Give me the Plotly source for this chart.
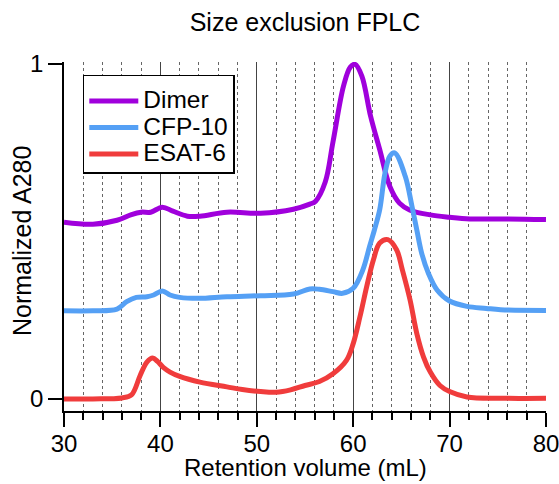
import plotly.graph_objects as go

# Retention volume (mL) and normalized A280 per trace
dimer_x = [30, 33, 35.5, 37, 38, 39, 40.2, 41.3, 42.8, 44.1, 46.9, 50.4, 53.8, 55.5,
           56.1, 57.1, 57.9, 59.0, 59.7, 60.2, 60.9, 61.8, 62.75, 63.8, 64.8, 65.9,
           68, 70, 72.1, 75.3, 80]
dimer_y = [0.527, 0.521, 0.533, 0.55, 0.557, 0.557, 0.572, 0.56, 0.545, 0.545, 0.557,
           0.554, 0.566, 0.581, 0.59, 0.647, 0.766, 0.934, 0.99, 0.998, 0.963, 0.844,
           0.744, 0.634, 0.584, 0.563, 0.549, 0.542, 0.537, 0.537, 0.535]

cfp_x = [30, 33, 35.5, 36.5, 37.5, 38.6, 39.3, 40.2, 41, 42, 44, 46.9, 50.4, 53.8,
         55.5, 56.5, 57.9, 58.9, 60, 61, 61.7, 62.2, 62.75, 63.3, 63.8, 64.3, 65.4,
         66.1, 66.6, 67.1, 67.8, 68.7, 70, 71.8, 73.8, 75.3, 80]
cfp_y = [0.263, 0.263, 0.268, 0.29, 0.303, 0.305, 0.31, 0.322, 0.31, 0.303, 0.3,
         0.305, 0.308, 0.313, 0.328, 0.327, 0.32, 0.315, 0.33, 0.385, 0.455, 0.504,
         0.564, 0.674, 0.724, 0.734, 0.664, 0.574, 0.504, 0.435, 0.375, 0.325, 0.292,
         0.276, 0.27, 0.266, 0.264]

esat_x = [30, 33, 36, 37.0, 37.9, 38.6, 39.2, 39.7, 40.3, 41, 42, 44.1, 46.9, 48.5,
          50.4, 52, 53.5, 55, 56.5, 57.9, 59.3, 60, 60.7, 61.4, 62.1, 62.75, 63.6,
          64.5, 65.1, 65.9, 66.6, 67.3, 68, 69, 70, 71.8, 75.3, 80]
esat_y = [0.0, 0.0, 0.003, 0.012, 0.07, 0.11, 0.122, 0.112, 0.094, 0.08, 0.067,
          0.05, 0.036, 0.028, 0.022, 0.02, 0.027, 0.04, 0.052, 0.075, 0.115, 0.165,
          0.245, 0.335, 0.415, 0.465, 0.475, 0.445, 0.385, 0.295, 0.195, 0.125, 0.08,
          0.04, 0.022, 0.006, 0.002, 0.002]

names = ["Dimer", "CFP-10", "ESAT-6"]
colors = ["#A000DC", "#55A0F5", "#F03C3C"]

FONT = "Liberation Sans, Arial, sans-serif"

fig = go.Figure()
for name, xs, ys, c in zip(names, [dimer_x, cfp_x, esat_x], [dimer_y, cfp_y, esat_y], colors):
    fig.add_trace(go.Scatter(x=xs, y=ys, mode="lines",
                             name='<span style="font-size:24.5px">' + name + '</span>',
                             line=dict(color=c, width=5, shape="spline", smoothing=1.0)))

fig.update_layout(
    width=559, height=484,
    margin=dict(l=64, r=13, t=62, b=73, autoexpand=False),
    paper_bgcolor="white", plot_bgcolor="white",
    font=dict(family=FONT, size=24, color="black"),
    title=dict(text="Size exclusion FPLC", x=0.5, xref="paper", xanchor="center",
               y=1 - 22 / 484, yanchor="middle", font=dict(size=25)),
    showlegend=True,
    legend=dict(x=0.039, y=0.963, xanchor="left", yanchor="top",
                bordercolor="black", borderwidth=1.5, bgcolor="white",
                itemwidth=49, font=dict(size=18),
                title=dict(text=" ", font=dict(size=5))),
    xaxis=dict(range=[30, 80.001], tickvals=[30, 40, 50, 60, 70, 80],
               ticks="outside", ticklen=14, ticklabeloverflow="allow",
               ticklabelstandoff=-4,
               tickwidth=1.5, tickcolor="black", showline=True, linecolor="black",
               linewidth=1.5, showgrid=True, gridcolor="#444", gridwidth=1,
               zeroline=False, automargin=False,
               minor=dict(dtick=2, tick0=30, ticks="outside", ticklen=7, tickwidth=1.5,
                          tickcolor="black", showgrid=True, gridcolor="#666",
                          griddash="dot", gridwidth=1)),
    yaxis=dict(range=[-0.036, 1.005], tickvals=[0, 1], ticktext=["0", "1"],
               ticks="outside", ticklen=14, tickwidth=1.5, tickcolor="black",
               showline=True, linecolor="black", linewidth=1.5, showgrid=False,
               zeroline=False, automargin=False),
    annotations=[
        dict(text="Retention volume (mL)", xref="paper", yref="paper",
             x=0.5, y=-(467 - 411) / 349, xanchor="center", yanchor="middle",
             showarrow=False, font=dict(size=24)),
        dict(text="Normalized A280", xref="paper", yref="paper",
             x=-(64 - 22) / 482, y=(411 - 241) / 349, xanchor="center",
             yanchor="middle", textangle=-90, showarrow=False, font=dict(size=25)),
    ],
)

fig.write_html("out.html")
